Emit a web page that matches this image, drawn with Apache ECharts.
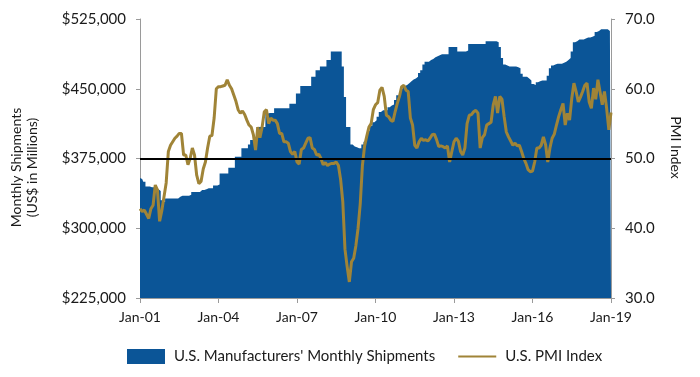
<!DOCTYPE html>
<html lang="en">
  <head>
    <meta charset="UTF-8" />
    <script src="https://cdn.jsdelivr.net/npm/echarts@6/dist/echarts.min.js"></script>
    <title>Shipments vs PMI</title>
    <style>
      html, body { margin: 0; background: #fff; }
      #app { width: 700px; height: 377px; }
    </style>
  </head>
  <body>
    <div id="app"></div>

    <script>
      const chart = echarts.init(document.getElementById("app"));
      const font = "Lato";
      const textColor = "#1a1a1a";

      // Jan-01 .. Jan-19, monthly
      const monthNames = ["Jan", "Feb", "Mar", "Apr", "May", "Jun", "Jul", "Aug", "Sep", "Oct", "Nov", "Dec"];
      const months = [];
      for (let y = 1; y <= 19; y++) {
        for (let m = 0; m < 12; m++) {
          if (y === 19 && m > 0) break;
          months.push(monthNames[m] + "-" + String(y).padStart(2, "0"));
        }
      }

      // U.S. manufacturers' monthly shipments, US$ thousands of millions
      const shipments = [
        354, 353, 350, 345, 345, 344, 344, 343, 342, 340, 330, 328,
        332, 332, 332, 332, 332, 332, 334, 335, 335, 335, 335, 336,
        339, 339, 339, 339, 341, 341, 342, 343, 343, 343, 346, 346,
        347, 359, 359, 359, 359, 365, 365, 365, 377, 377, 377, 386,
        386, 386, 390, 395, 395, 395, 409, 409, 409, 409, 423, 424,
        424, 424, 429, 429, 429, 429, 429, 429, 429, 434, 434, 434,
        445, 445, 453, 453, 453, 453, 453, 463, 463, 470, 470, 474,
        474, 474, 481, 481, 490, 490, 490, 490, 490, 474, 441, 409,
        409, 390, 388, 387, 386, 386, 390, 393, 398, 405, 410, 414,
        416, 420, 425, 427, 427, 427, 430, 432, 433, 438, 443, 443,
        450, 453, 454, 456, 458, 460, 461, 463, 467, 470, 476, 479,
        479, 481, 482, 484, 485, 486, 487, 487, 487, 487, 495, 495,
        495, 495, 490, 490, 490, 490, 491, 498, 498, 498, 498, 498,
        498, 498, 498, 501, 501, 501, 501, 501, 500, 495, 483, 476,
        475, 474, 474, 474, 474, 473, 472, 466, 463, 463, 461, 459,
        455, 454, 457, 458, 459, 459, 459, 464, 472, 475, 476, 477,
        477, 477, 478, 479, 481, 483, 490, 500, 501, 503, 503, 503,
        504, 505, 505, 506, 507, 511, 512, 514, 514, 514, 514, 512,
        510
      ];

      // U.S. PMI index
      const pmi = [
        42.8, 42.4, 42.6, 42.0, 41.4, 42.8, 43.3, 46.2, 45.5, 41.0, 42.5, 44.5,
        46.5, 51.0, 51.9, 52.4, 52.9, 53.2, 53.6, 53.6, 50.5, 50.5, 49.1, 50.0,
        51.5, 50.5, 47.6, 46.4, 46.7, 48.5, 49.5, 51.5, 53.2, 53.3, 55.8, 60.0,
        60.3, 60.3, 60.4, 60.5, 61.3, 60.5, 60.0, 59.1, 58.2, 57.0, 56.5, 56.8,
        56.3, 55.5, 54.8, 54.5, 53.4, 51.2, 54.5, 53.0, 54.5, 56.7, 57.0, 55.0,
        55.8, 55.5, 55.5, 55.0, 53.6, 53.6, 52.4, 52.4, 52.2, 51.0, 50.6, 51.0,
        49.5, 49.2, 51.3, 51.5, 52.2, 52.9, 53.0, 51.5, 51.3, 50.5, 50.6, 50.0,
        49.1, 49.4, 49.0, 49.2, 49.3, 49.3, 49.5, 49.0, 47.0, 43.8, 37.0, 34.5,
        32.3, 35.2, 35.7, 37.5, 40.0, 43.5, 49.0, 51.8, 53.2, 54.5, 55.0, 57.0,
        57.7, 58.0, 59.8, 60.2, 58.9, 56.2, 56.0, 55.5, 55.3, 56.7, 57.9, 58.9,
        60.3, 60.5, 59.8, 59.6, 55.8, 54.8, 51.9, 51.5, 52.4, 52.9, 52.6, 52.7,
        52.5, 52.9, 53.4, 53.5, 52.7, 51.7, 51.8, 51.7, 51.5, 51.8, 49.5, 51.0,
        52.4, 52.9, 52.5, 51.0, 50.5, 51.5, 55.0, 56.2, 56.3, 56.7, 56.9, 56.5,
        51.5, 53.0, 53.4, 54.8, 55.0, 55.2, 57.7, 58.9, 56.5, 58.9, 58.5, 56.0,
        53.8, 53.1, 52.5, 51.9, 52.2, 51.8, 51.9, 51.0, 50.0, 49.3, 48.4, 48.1,
        48.2, 49.5, 51.5, 51.5, 51.9, 53.1, 52.0, 49.5, 51.5, 52.9, 53.5, 54.8,
        56.0, 57.0, 57.9, 54.8, 56.5, 55.5, 58.6, 60.8, 59.6, 58.1, 58.8, 59.6,
        60.5, 60.8, 58.1, 57.2, 60.1, 58.5, 61.3, 59.5, 57.7, 59.6, 57.2, 54.1,
        56.6
      ];

      const shipName = "U.S. Manufacturers' Monthly Shipments";
      const pmiName = "U.S. PMI Index";
      const axisGray = "#9a9a9a";

      chart.setOption({
        animation: false,
        textStyle: { fontFamily: font, color: textColor },
        grid: { left: 140, right: 89, top: 19, bottom: 79 },
        legend: {
          left: 122,
          top: 344,
          itemWidth: 38,
          itemHeight: 15,
          itemGap: 22,
          textStyle: { fontFamily: font, fontSize: 15, color: textColor, padding: [0, 0, 0, 4] },
          data: [
            { name: shipName, icon: "rect" },
            { name: pmiName, itemStyle: { opacity: 0 } },
          ],
        },
        xAxis: {
          type: "category",
          data: months,
          boundaryGap: false,
          axisLine: { lineStyle: { color: axisGray } },
          axisTick: { length: 5, interval: (i) => i % 36 === 0, lineStyle: { color: axisGray } },
          axisLabel: {
            interval: (i) => i % 36 === 0,
            margin: 12,
            fontSize: 14,
            fontFamily: font,
            color: textColor,
          },
          splitLine: { show: false },
        },
        yAxis: [
          {
            type: "value",
            min: 225,
            max: 525,
            interval: 75,
            name: "Monthly Shipments\n(US$ in Millions)",
            nameLocation: "middle",
            nameGap: 100,
            nameTextStyle: { fontSize: 14, lineHeight: 16, color: textColor, fontFamily: font, padding: [0, 18, 0, 0] },
            axisLine: { show: true, lineStyle: { color: axisGray } },
            axisTick: { show: true, length: 4, lineStyle: { color: axisGray } },
            axisLabel: {
              margin: 14,
              fontSize: 15,
              color: textColor,
              fontFamily: font,
              formatter: (v) => "$" + v + ",000",
            },
            splitLine: { show: false },
          },
          {
            type: "value",
            min: 30,
            max: 70,
            interval: 10,
            position: "right",
            name: "PMI Index",
            nameLocation: "middle",
            nameRotate: -90,
            nameGap: 58,
            nameTextStyle: { fontSize: 14, color: textColor, fontFamily: font, padding: [0, 22, 0, 0] },
            axisLine: { show: true, lineStyle: { color: axisGray } },
            axisTick: { show: true, length: 4, lineStyle: { color: axisGray } },
            axisLabel: {
              margin: 14,
              fontSize: 15,
              color: textColor,
              fontFamily: font,
              formatter: (v) => v.toFixed(1),
            },
            splitLine: { show: false },
          },
        ],
        series: [
          {
            name: shipName,
            type: "line",
            data: shipments,
            step: "middle",
            symbol: "none",
            lineStyle: { width: 0 },
            itemStyle: { color: "#0b5597" },
            areaStyle: { color: "#0b5597", opacity: 1 },
            z: 1,
            markLine: {
              silent: true,
              symbol: "none",
              label: { show: false },
              lineStyle: { color: "#000", width: 2, type: "solid" },
              data: [{ yAxis: 375 }],
            },
          },
          {
            name: pmiName,
            type: "line",
            yAxisIndex: 1,
            data: pmi,
            symbol: "none",
            lineStyle: { width: 3, color: "#a08437" },
            itemStyle: { color: "#a08437" },
            z: 3,
          },
        ],
      });
    </script>
  </body>
</html>
